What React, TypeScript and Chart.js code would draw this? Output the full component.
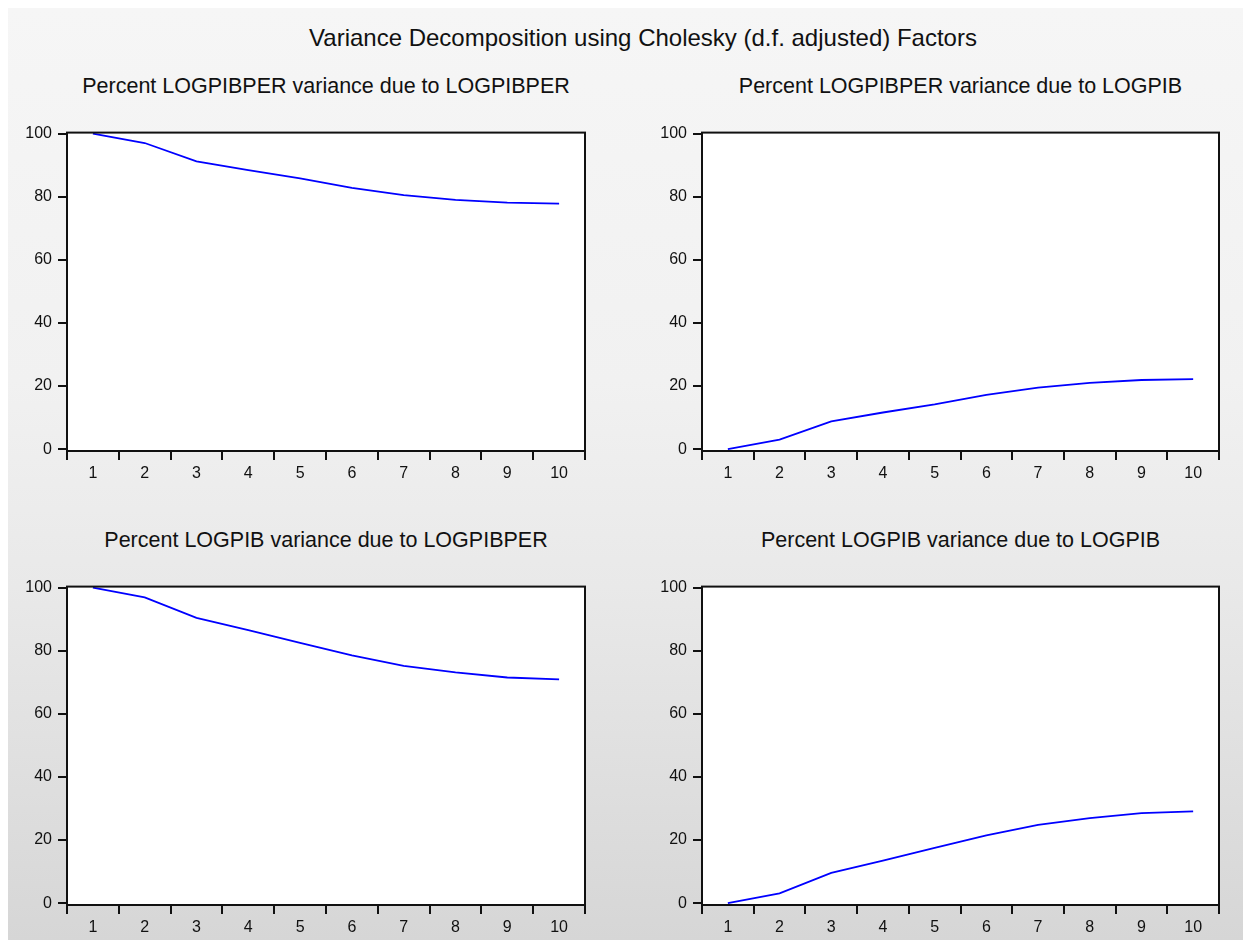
import React, { useEffect, useRef } from "react";
import { Chart, registerables } from "chart.js";

Chart.register(...registerables);

const periods = ["1", "2", "3", "4", "5", "6", "7", "8", "9", "10"];
const yTicks = [0, 20, 40, 60, 80, 100];
const perDuePer = [100, 97.0, 91.2, 88.4, 85.8, 82.8, 80.5, 79.0, 78.1, 77.8];
const perDuePib = [0, 3.0, 8.8, 11.6, 14.2, 17.2, 19.5, 21.0, 21.9, 22.2];
const pibDuePer = [100, 96.9, 90.4, 86.5, 82.5, 78.5, 75.2, 73.1, 71.5, 70.9];
const pibDuePib = [0, 3.1, 9.6, 13.5, 17.5, 21.5, 24.8, 26.9, 28.5, 29.1];

const mainTitle = "Variance Decomposition using Cholesky (d.f. adjusted) Factors";
const panelTitles = [
  "Percent LOGPIBPER variance due to LOGPIBPER",
  "Percent LOGPIBPER variance due to LOGPIB",
  "Percent LOGPIB variance due to LOGPIBPER",
  "Percent LOGPIB variance due to LOGPIB",
];

const FONT = "'Liberation Sans', Arial, sans-serif";
const PAD_L = 60;
const PAD_R = 12;
const PAD_T = 12;
const PAD_B = 45;

type Rect = { l: number; t: number; r: number; b: number };

const frame = {
  id: "frame",
  beforeDraw(chart: any) {
    const { ctx, chartArea: a } = chart;
    ctx.save();
    ctx.fillStyle = "#ffffff";
    ctx.fillRect(a.left, a.top, a.right - a.left, a.bottom - a.top);
    ctx.restore();
  },
  afterDraw(chart: any) {
    const { ctx, chartArea: a } = chart;
    ctx.save();
    ctx.strokeStyle = "#111111";
    ctx.lineWidth = 2;
    ctx.strokeRect(a.left, a.top, a.right - a.left, a.bottom - a.top);
    ctx.restore();
  },
};

function Panel({ rect, values, title }: { rect: Rect; values: number[]; title: string }) {
  const ref = useRef<HTMLCanvasElement | null>(null);
  const w = rect.r - rect.l + PAD_L + PAD_R;
  const h = rect.b - rect.t + PAD_T + PAD_B;
  useEffect(() => {
    if (!ref.current) return;
    const chart = new Chart(ref.current, {
      type: "line",
      data: {
        labels: periods,
        datasets: [
          {
            data: values,
            borderColor: "#0000ff",
            borderWidth: 1.8,
            pointRadius: 0,
            tension: 0,
            fill: false,
          },
        ],
      },
      options: {
        animation: false,
        responsive: false,
        devicePixelRatio: 1,
        layout: { padding: { left: 0, right: PAD_R, top: PAD_T, bottom: 0 } },
        plugins: { legend: { display: false }, tooltip: { enabled: false }, title: { display: false } },
        scales: {
          x: {
            type: "category",
            offset: true,
            grid: {
              offset: true,
              drawOnChartArea: false,
              drawTicks: true,
              tickLength: 9,
              color: "#111111",
              lineWidth: 2,
            },
            border: { display: false },
            ticks: {
              color: "#111111",
              font: { family: FONT, size: 16 },
              padding: 4,
              maxRotation: 0,
              autoSkip: false,
            },
            afterFit: (s: any) => {
              s.height = PAD_B;
            },
          },
          y: {
            type: "linear",
            min: -0.6,
            max: 100.3,
            grid: {
              drawOnChartArea: false,
              drawTicks: true,
              tickLength: 9,
              color: "#111111",
              lineWidth: 2,
            },
            border: { display: false },
            ticks: {
              color: "#111111",
              font: { family: FONT, size: 16 },
              padding: 6,
            },
            afterBuildTicks: (s: any) => {
              s.ticks = yTicks.map((v) => ({ value: v }));
            },
            afterFit: (s: any) => {
              s.width = PAD_L;
            },
          },
        },
      },
      plugins: [frame],
    });
    return () => chart.destroy();
  }, []);
  return (
    <>
      <div
        style={{
          position: "absolute",
          left: (rect.l + rect.r) / 2,
          top: rect.t - 42,
          transform: "translate(-50%, -50%)",
          whiteSpace: "nowrap",
          fontFamily: FONT,
          fontSize: 21.5,
          lineHeight: 1,
          color: "#111111",
        }}
      >
        {title}
      </div>
      <canvas
        ref={ref}
        width={w}
        height={h}
        style={{ position: "absolute", left: rect.l - PAD_L, top: rect.t - PAD_T, width: w, height: h }}
      />
    </>
  );
}

const rects: Rect[] = [
  { l: 67, t: 129, r: 585, b: 451 },
  { l: 702, t: 129, r: 1219, b: 451 },
  { l: 67, t: 583, r: 585, b: 905 },
  { l: 702, t: 583, r: 1219, b: 905 },
];
const series = [perDuePer, perDuePib, pibDuePer, pibDuePib];

export default function App() {
  return (
    <div style={{ position: "fixed", left: 0, top: 0, width: 1243, height: 940, background: "#ffffff", overflow: "hidden" }}>
      <div
        style={{
          position: "absolute",
          left: 8,
          top: 8,
          width: 1235,
          height: 932,
          background: "linear-gradient(to bottom, #f6f6f6 0%, #f1f1f1 40%, #e9e9e9 62%, #d6d6d6 100%)",
        }}
      />
      <div
        style={{
          position: "absolute",
          left: 643,
          top: 38,
          transform: "translate(-50%, -50%)",
          whiteSpace: "nowrap",
          fontFamily: FONT,
          fontSize: 24,
          lineHeight: 1,
          color: "#111111",
        }}
      >
        {mainTitle}
      </div>
      {rects.map((r, i) => (
        <Panel key={i} rect={r} values={series[i]} title={panelTitles[i]} />
      ))}
    </div>
  );
}
